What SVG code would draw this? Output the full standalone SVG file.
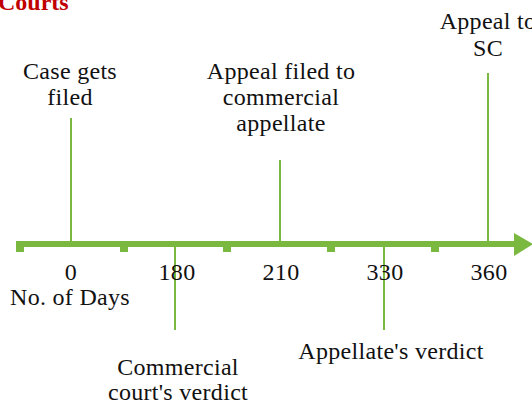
<svg xmlns="http://www.w3.org/2000/svg" width="532" height="403" viewBox="0 0 532 403">
<style>
.t{font-family:"Liberation Serif","Times New Roman",serif;font-size:24px;fill:#111;text-anchor:middle;letter-spacing:0.3px}
.title{font-family:"Liberation Serif","Times New Roman",serif;font-size:24px;font-weight:bold;fill:#c00000}
.v{stroke:#7ab83f;stroke-width:2;fill:none}
.ax{fill:#7ab83f}
</style>
<rect width="532" height="403" fill="#fff"/>
<text class="title" x="-2" y="10">Courts</text>
<g id="connectors">
<line class="v" x1="71" y1="118" x2="71" y2="242"/>
<line class="v" x1="175" y1="246" x2="175" y2="330"/>
<line class="v" x1="280" y1="160" x2="280" y2="242"/>
<line class="v" x1="384" y1="246" x2="384" y2="330"/>
<line class="v" x1="488" y1="73" x2="488" y2="242"/>
</g>
<g id="axis">
<rect class="ax" x="16" y="241" width="500" height="6"/>
<polygon class="ax" points="514,233 533,244 514,256"/>
<rect class="ax" x="16" y="246" width="8" height="6"/>
<rect class="ax" x="120" y="246" width="8" height="6"/>
<rect class="ax" x="223" y="246" width="8" height="6"/>
<rect class="ax" x="327" y="246" width="8" height="6"/>
<rect class="ax" x="431" y="246" width="8" height="6"/>
</g>
<g id="ticks-labels">
<text class="t" x="71" y="280">0</text>
<text class="t" x="177" y="280">180</text>
<text class="t" x="281" y="280">210</text>
<text class="t" x="385" y="280">330</text>
<text class="t" x="489" y="280">360</text>
<text class="t" x="70" y="305">No. of Days</text>
</g>
<g id="case-filed">
<text class="t" x="70" y="79">Case gets</text>
<text class="t" x="70" y="105">filed</text>
</g>
<g id="appeal-commercial">
<text class="t" x="281" y="79">Appeal filed to</text>
<text class="t" x="281" y="105">commercial</text>
<text class="t" x="281" y="131">appellate</text>
</g>
<g id="appeal-sc">
<text class="t" x="488" y="29">Appeal to</text>
<text class="t" x="488" y="56">SC</text>
</g>
<g id="commercial-verdict">
<text class="t" x="178" y="375">Commercial</text>
<text class="t" x="178" y="400">court's verdict</text>
</g>
<g id="appellate-verdict">
<text class="t" x="391" y="359">Appellate's verdict</text>
</g>
</svg>
